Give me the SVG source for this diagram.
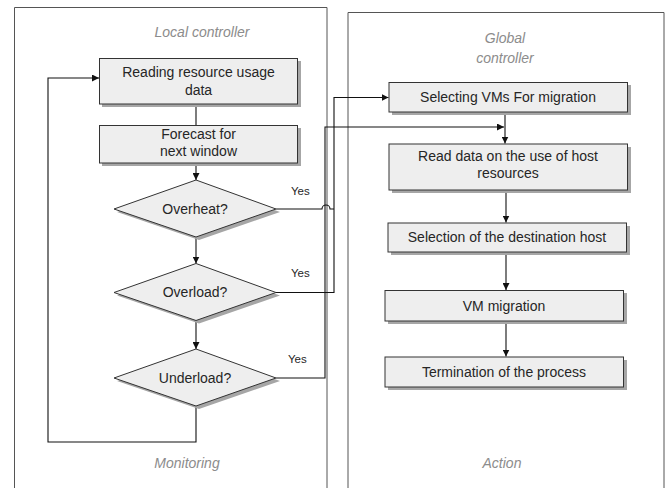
<svg xmlns="http://www.w3.org/2000/svg" width="667" height="488" viewBox="0 0 667 488">
<style>
.panel{fill:none;stroke:#555;stroke-width:1}
.box{fill:#eeeeee;stroke:#333;stroke-width:1}
.shadow{fill:#a6a6a6;stroke:none}
.t{font-family:"Liberation Sans",Arial,sans-serif;font-size:14px;fill:#262626;text-anchor:middle}
.lbl{font-family:"Liberation Sans",Arial,sans-serif;font-size:14px;font-style:italic;fill:#8c8c8c;text-anchor:middle}
.yes{font-family:"Liberation Sans",Arial,sans-serif;font-size:11.5px;fill:#262626}
.c{fill:none;stroke:#111;stroke-width:1.1}
.ca{fill:none;stroke:#111;stroke-width:1.1;marker-end:url(#arr)}
</style>
<defs>
<marker id="arr" viewBox="0 0 10 10" refX="10" refY="5" markerWidth="7" markerHeight="7" markerUnits="userSpaceOnUse" orient="auto">
<path d="M0,0 L10,5 L0,10 z" fill="#111"/>
</marker>
</defs>
<rect width="667" height="488" fill="#ffffff"/>

<g id="panel-local">
<path class="panel" d="M14.5,490 V7.5 H327 V490"/>
<text class="lbl" x="202" y="37">Local controller</text>
<text class="lbl" x="187" y="468">Monitoring</text>
</g>
<g id="panel-global">
<path class="panel" d="M348,490 V12.5 H664 V490"/>
<text class="lbl" x="505" y="43">Global</text>
<text class="lbl" x="505" y="63">controller</text>
<text class="lbl" x="502" y="468">Action</text>
</g>

<g id="connectors">
<path class="c" d="M196,104 V125"/>
<path class="ca" d="M196,163 V180"/>
<path class="ca" d="M196,237 V263.5"/>
<path class="ca" d="M196,320.5 V349"/>
<path class="ca" d="M196,406 V442 H48 V78 H99"/>
<path class="c" d="M276,209 H322 A4,4 0 0 1 330,209 H334"/>
<path class="ca" d="M276,292.5 H334 V97.5 H388.5"/>
<path class="ca" d="M276,378 H325 V127 H504"/>
<path class="ca" d="M505,112 V143.5"/>
<path class="ca" d="M506,190 V222.5"/>
<path class="ca" d="M506,252 V290"/>
<path class="ca" d="M506,321 V356.5"/>
</g>

<g id="n-reading">
<rect class="shadow" x="102" y="61" width="199" height="46"/>
<rect class="box" x="99.5" y="58.5" width="198" height="45.5"/>
<text class="t" x="198.5" y="77">Reading resource usage</text>
<text class="t" x="198.5" y="95">data</text>
</g>
<g id="n-forecast">
<rect class="shadow" x="102" y="128" width="199" height="38"/>
<rect class="box" x="99.5" y="125.5" width="198" height="37.5"/>
<text class="t" x="198.5" y="139">Forecast for</text>
<text class="t" x="198.5" y="156">next window</text>
</g>
<g id="n-overheat">
<polygon class="shadow" points="199,183 280,212 199,240 117,212"/>
<polygon class="box" points="196,180 276,209 196,237 114,209"/>
<text class="t" x="195" y="214">Overheat?</text>
<text class="yes" x="291" y="195">Yes</text>
</g>
<g id="n-overload">
<polygon class="shadow" points="199,266.5 280,295.5 199,323.5 117,295.5"/>
<polygon class="box" points="196,263.5 276,292.5 196,320.5 114,292.5"/>
<text class="t" x="195" y="297">Overload?</text>
<text class="yes" x="291" y="277">Yes</text>
</g>
<g id="n-underload">
<polygon class="shadow" points="199,352 280,381 199,409 117,381"/>
<polygon class="box" points="196,349 276,378 196,406 114,378"/>
<text class="t" x="195" y="383">Underload?</text>
<text class="yes" x="288" y="363">Yes</text>
</g>

<g id="n-selecting">
<rect class="shadow" x="392" y="85" width="239" height="30"/>
<rect class="box" x="389" y="82.5" width="238.5" height="29.5"/>
<text class="t" x="508" y="102">Selecting VMs For migration</text>
</g>
<g id="n-read">
<rect class="shadow" x="392" y="147" width="239" height="46"/>
<rect class="box" x="389" y="144" width="238.5" height="46"/>
<text class="t" x="508" y="161">Read data on the use of host</text>
<text class="t" x="508" y="178">resources</text>
</g>
<g id="n-selection">
<rect class="shadow" x="391" y="226" width="239" height="29"/>
<rect class="box" x="388" y="223" width="238.5" height="29"/>
<text class="t" x="507" y="242">Selection of the destination host</text>
</g>
<g id="n-vm">
<rect class="shadow" x="388" y="293" width="239" height="31"/>
<rect class="box" x="385" y="290.5" width="238.5" height="30.5"/>
<text class="t" x="504" y="311">VM migration</text>
</g>
<g id="n-term">
<rect class="shadow" x="388" y="360" width="239" height="30"/>
<rect class="box" x="385" y="357" width="238.5" height="30"/>
<text class="t" x="504" y="377">Termination of the process</text>
</g>
</svg>
